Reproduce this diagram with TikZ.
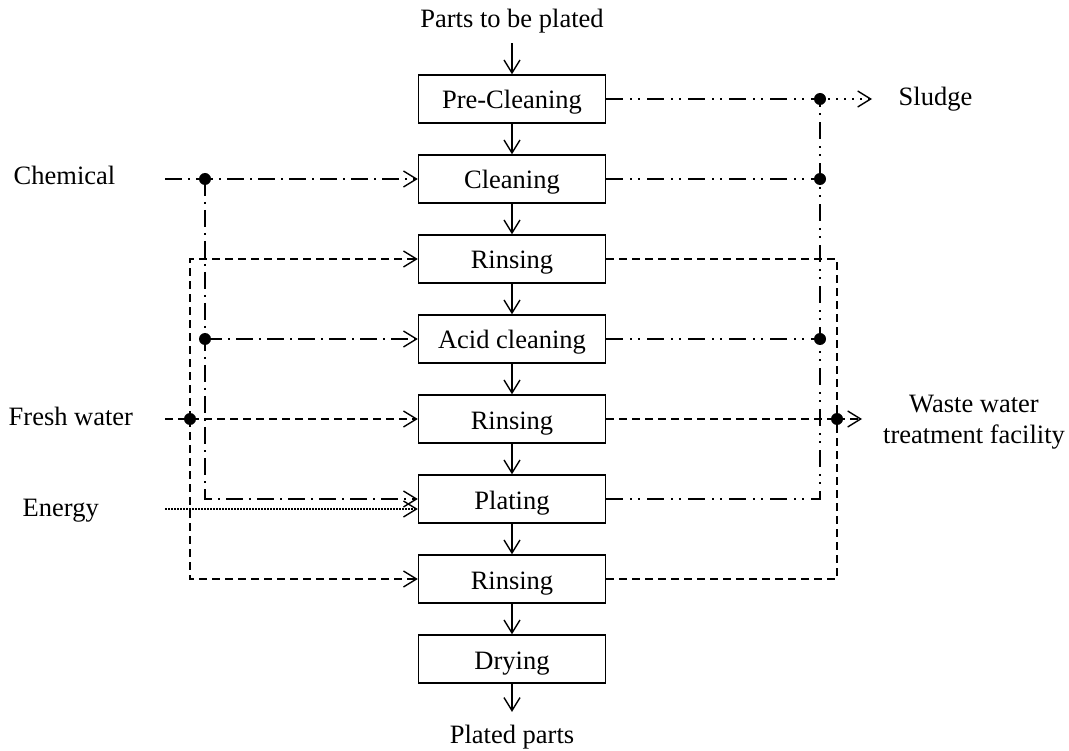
\documentclass[tikz,border=0pt]{standalone}
\usepackage{fontspec}
\setmainfont{Liberation Serif}
\usetikzlibrary{arrows.meta}
\begin{document}
\begin{tikzpicture}[x=1pt,y=-1pt,
  font=\fontsize{26.5}{31}\selectfont,
  line width=1.4pt,
  >={Straight Barb[length=13pt,width=16pt]},
  stage/.style={draw, minimum width=187pt, minimum height=48pt, inner sep=0pt,
                text height=20pt, text depth=0pt},
  lbl/.style={inner sep=0pt, anchor=base},
  dashline/.style={dash pattern=on 8pt off 5pt},
  chemline/.style={dash pattern=on 17pt off 6pt on 2pt off 6pt},
  outline/.style={dash pattern=on 17pt off 7pt on 2pt off 6pt on 2pt off 7pt},
  dotline/.style={dash pattern=on 2pt off 6pt},
  fineline/.style={dash pattern=on 1.5pt off 1.5pt, line width=1.4pt},
  junction/.style={circle, fill, inner sep=0pt, minimum size=12pt},
]
\useasboundingbox (0,0) rectangle (1069,751);

% process stages
\node[stage] (pre)   at (512,99)  {Pre-Cleaning};
\node[stage] (clean) at (512,179) {Cleaning};
\node[stage] (rin1)  at (512,259) {Rinsing};
\node[stage] (acid)  at (512,339) {Acid cleaning};
\node[stage] (rin2)  at (512,419) {Rinsing};
\node[stage] (plate) at (512,499) {Plating};
\node[stage] (rin3)  at (512,579) {Rinsing};
\node[stage] (dry)   at (512,659) {Drying};

% inputs and outputs
\node[lbl] (parts)  at (512,28)  {Parts to be plated};
\node[lbl] (plated) at (512,743) {Plated parts};
\node[lbl, anchor=base west] (chem)   at (13,185) {Chemical};
\node[lbl, anchor=base west] (fresh)  at (8,425)  {Fresh water};
\node[lbl, anchor=base west] (energy) at (22,516) {Energy};
\node[lbl, anchor=base west] (sludge) at (898,106) {Sludge};
\node[inner sep=0pt, align=center] (waste) at (974,422) {Waste water\\treatment facility};

% main flow
\draw[->] ([yshift=-9pt]parts.south) -- (pre.north);
\draw[->] (pre) -- (clean);
\draw[->] (clean) -- (rin1);
\draw[->] (rin1) -- (acid);
\draw[->] (acid) -- (rin2);
\draw[->] (rin2) -- (plate);
\draw[->] (plate) -- (rin3);
\draw[->] (rin3) -- (dry);
\draw[->] (dry.south) -- ([yshift=12pt]plated.north);

% line start and end points
\coordinate (chemin)   at (165,179);
\coordinate (freshin)  at (165,419);
\coordinate (energyin) at (165,509);
\coordinate (sludgeend) at (872,99);
\coordinate (wasteend)  at (862,419);

% junctions
\node[junction] (j1) at (205,179) {};
\node[junction] (j2) at (205,339) {};
\node[junction] (jf) at (190,419) {};
\node[junction] (s1) at (820,99)  {};
\node[junction] (s2) at (820,179) {};
\node[junction] (s3) at (820,339) {};
\node[junction] (w)  at (837,419) {};

% chemical supply
\draw[chemline,->] (chemin) -- (clean.west);
\draw[chemline,->] (j1.center) |- (plate.west);
\draw[chemline,->] (j2.center) -- (acid.west);

% fresh water supply
\draw[dashline,->] (freshin) -- (rin2.west);
\draw[dashline,->] (jf.center) |- (rin1.west);
\draw[dashline,->] (jf.center) |- (rin3.west);

% energy supply
\draw[fineline,->] (energyin) -- ([yshift=-10pt]plate.west);

% sludge collection
\draw[outline] (pre.east) -- (s1.center);
\draw[outline] (clean.east) -- (s2.center);
\draw[outline] (acid.east) -- (s3.center);
\draw[outline] (plate.east) -| (s1.center);
\draw[dotline,->] (s1.center) -- (sludgeend);

% waste water collection
\draw[dashline] (rin1.east) -| (w.center);
\draw[dashline] (rin3.east) -| (w.center);
\draw[dashline] (rin2.east) -- (w.center);
\draw[dashline,->] (w.center) -- (wasteend);
\end{tikzpicture}
\end{document}
